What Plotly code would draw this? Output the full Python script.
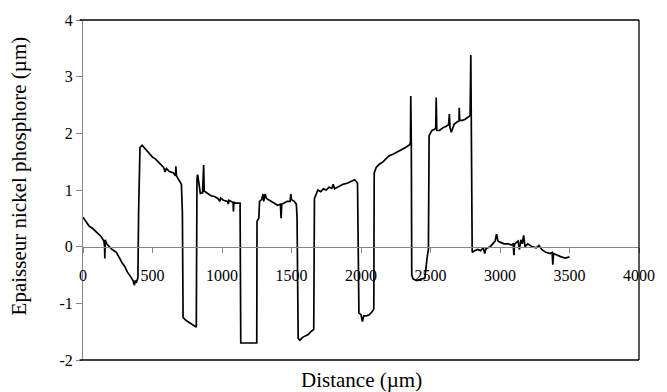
import plotly.graph_objects as go

# Distance (µm) and thickness (µm)
distance = [0, 20, 40, 45, 70, 100, 130, 150, 155, 157, 160, 170, 190, 210, 240, 260, 280, 300, 320, 340, 360, 370, 375, 385, 395,
            400, 410, 425, 440, 460, 480, 500, 520, 540, 560, 580, 590, 600, 620, 650, 665, 668, 672, 690, 702, 708, 715,
            720, 740, 760, 780, 800, 815,
            820, 825, 844, 860, 868, 872, 880, 900, 920, 950, 970, 985, 990, 1010, 1040, 1045, 1050, 1080, 1082, 1086, 1100, 1130,
            1135, 1250,
            1252, 1265, 1270, 1285, 1295, 1300, 1310, 1320, 1340, 1360, 1380, 1400, 1420, 1425, 1430, 1450, 1470, 1490, 1495, 1500, 1520, 1535, 1540,
            1548, 1560, 1580, 1600, 1620, 1640, 1660,
            1665, 1680, 1690, 1710, 1730, 1750, 1770, 1790, 1800, 1810, 1830, 1850, 1870, 1900, 1930, 1955, 1975,
            1985, 2000, 2010, 2020, 2040, 2060, 2080, 2092,
            2095, 2110, 2130, 2160, 2180, 2200, 2230, 2260, 2290, 2320, 2350, 2356, 2358, 2362,
            2365, 2375, 2400, 2430, 2460, 2475, 2485,
            2490, 2510, 2530, 2538, 2541, 2545, 2565, 2590, 2610, 2630, 2636, 2640, 2650, 2670, 2690, 2705, 2707, 2710, 2730, 2750, 2777, 2785, 2790,
            2795, 2800, 2820, 2840, 2860, 2880, 2890, 2900, 2930, 2950, 2965, 2975, 2985, 3000, 3030, 3060, 3080, 3095, 3100, 3105,
            3130, 3140, 3150, 3160, 3170, 3180, 3200, 3230, 3260, 3280, 3300, 3330, 3360, 3375, 3380, 3385, 3410, 3440, 3470, 3490, 3500]
thickness = [0.52, 0.45, 0.40, 0.36, 0.32, 0.25, 0.18, 0.10, 0.02, -0.21, 0.12, 0.05, 0.00, -0.05, -0.10, -0.20, -0.28, -0.35, -0.45, -0.52, -0.60, -0.68, -0.60, -0.62, -0.55,
             0.60, 1.75, 1.79, 1.75, 1.68, 1.63, 1.58, 1.55, 1.50, 1.45, 1.40, 1.32, 1.38, 1.33, 1.30, 1.25, 1.42, 1.25, 1.18, 1.13, 1.10, 0.60,
             -1.25, -1.30, -1.33, -1.36, -1.40, -1.42,
             1.20, 1.27, 0.94, 0.95, 1.44, 0.98, 0.97, 0.93, 0.90, 0.88, 0.85, 0.80, 0.86, 0.82, 0.80, 0.75, 0.82, 0.78, 0.62, 0.78, 0.77, 0.77,
             -1.70, -1.70,
             0.45, 0.50, 0.80, 0.83, 0.93, 0.80, 0.93, 0.85, 0.82, 0.78, 0.75, 0.73, 0.75, 0.50, 0.75, 0.78, 0.80, 0.80, 0.93, 0.83, 0.80, 0.75, 0.50,
             -1.62, -1.65, -1.60, -1.57, -1.55, -1.50, -1.46,
             0.85, 0.93, 1.00, 0.97, 1.02, 1.00, 1.05, 1.03, 1.10, 1.02, 1.05, 1.08, 1.10, 1.12, 1.15, 1.18, 1.12,
             -1.17, -1.20, -1.32, -1.22, -1.22, -1.20, -1.15, -1.10,
             1.30, 1.40, 1.45, 1.50, 1.55, 1.60, 1.63, 1.67, 1.70, 1.75, 1.80, 1.84, 2.66, 1.82,
             -0.50, -0.57, -0.60, -0.58, -0.55, -0.20, -0.05,
             1.96, 2.05, 2.07, 2.10, 2.63, 2.05, 2.05, 2.10, 2.12, 2.15, 2.34, 2.10, 2.02, 2.16, 2.20, 2.22, 2.45, 2.23, 2.23, 2.25, 2.30, 2.32, 3.38,
             0.70, -0.10, -0.07, -0.05, -0.07, -0.02, -0.12, -0.03, 0.00, 0.05, 0.10, 0.22, 0.10, 0.08, 0.05, 0.05, 0.03, 0.05, -0.15, 0.05,
             0.10, -0.05, 0.12, 0.05, 0.20, 0.00, 0.05, 0.00, -0.02, 0.02, -0.05, -0.10, -0.12, -0.10, -0.32, -0.12, -0.15, -0.18, -0.20, -0.19, -0.18]

x_ticks = [0, 500, 1000, 1500, 2000, 2500, 3000, 3500, 4000]
x_tick_labels = ["0", "500", "1000", "1500", "2000", "2500", "3000", "3500", "4000"]
y_ticks = [-2, -1, 0, 1, 2, 3, 4]
y_tick_labels = ["-2", "-1", "0", "1", "2", "3", "4"]

FONT = "Times New Roman"
AXIS_GRAY = "#868686"

fig = go.Figure()
fig.add_trace(go.Scatter(x=distance, y=thickness, mode="lines",
                         line=dict(color="black", width=1.7), showlegend=False,
                         hoverinfo="skip"))

fig.update_layout(
    width=667, height=392,
    margin=dict(l=83, r=22, t=15, b=32),
    paper_bgcolor="white", plot_bgcolor="white",
    font=dict(family=FONT, size=16, color="black"),
    xaxis=dict(range=[0, 4000], tickvals=x_ticks, ticktext=x_tick_labels,
               anchor="free", position=1/3, showline=True, linecolor=AXIS_GRAY, linewidth=1,
               ticks="outside", ticklen=5, tickcolor=AXIS_GRAY, showgrid=False, zeroline=False,
               ticklabelstandoff=9,
               tickfont=dict(family=FONT, size=16, color="black")),
    yaxis=dict(range=[-2, 4], tickvals=y_ticks, ticktext=y_tick_labels,
               showline=True, linecolor=AXIS_GRAY, linewidth=1,
               ticks="outside", ticklen=6, tickcolor=AXIS_GRAY, showgrid=False, zeroline=False,
               tickfont=dict(family=FONT, size=16, color="black")),
    shapes=[
        dict(type="line", xref="paper", yref="paper", x0=-0.006, x1=1, y0=1, y1=1,
             line=dict(color="black", width=1.3)),
        dict(type="line", xref="paper", yref="paper", x0=-0.006, x1=1, y0=0, y1=0,
             line=dict(color="black", width=1.3)),
        dict(type="line", xref="paper", yref="paper", x0=1, x1=1, y0=0, y1=1,
             line=dict(color="black", width=1.3)),
    ],
    annotations=[
        dict(text="Distance (µm)", xref="paper", yref="paper", x=0.5, y=-0.058,
             xanchor="center", yanchor="middle", showarrow=False,
             font=dict(family=FONT, size=21, color="black")),
        dict(text="Epaisseur nickel phosphore (µm)", xref="paper", yref="paper",
             x=-0.1157, y=0.542, xanchor="center", yanchor="middle", textangle=-90,
             showarrow=False, font=dict(family=FONT, size=21, color="black")),
    ],
)

fig.write_html("out.html", config={"displayModeBar": False},
               post_script="document.body.style.margin='0';document.body.style.overflow='hidden';")
